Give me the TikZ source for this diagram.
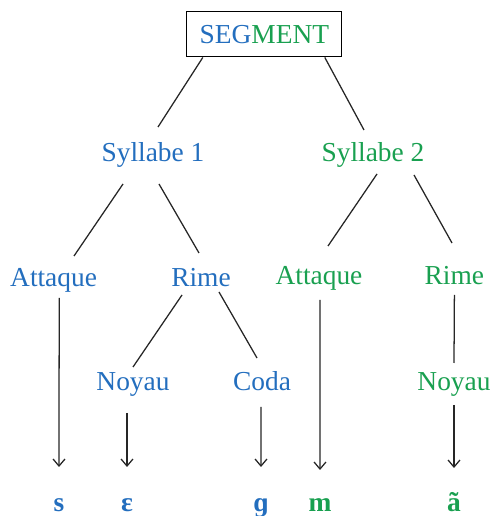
\documentclass[tikz,border=0pt]{standalone}
\usepackage{fontspec}
\setmainfont{Liberation Serif}
\usetikzlibrary{arrows.meta}
\definecolor{sylblue}{RGB}{35,110,190}
\definecolor{sylgreen}{RGB}{25,160,80}
\begin{document}
\begin{tikzpicture}[
        lbl/.style={anchor=base,inner sep=0pt,font=\fontsize{19.5}{23}\selectfont},
        blu/.style={lbl,text=sylblue},
        grn/.style={lbl,text=sylgreen},
        snd/.style={font=\fontsize{19.5}{23}\selectfont\bfseries},
        branch/.style={draw=black!85,line width=0.9pt},
        down/.style={branch,-{Straight Barb[length=5pt,width=8.5pt,line width=0.9pt]}}]
        \useasboundingbox (0,0) rectangle (12.275,12.9);
        %% Top box
        \node[draw,line width=0.8pt,minimum width=3.875cm,minimum height=1.125cm,inner sep=0pt,font=\fontsize{19.5}{23}\selectfont] (seg) at (6.61,12.04) {\textcolor{sylblue}{SEG}\textcolor{sylgreen}{MENT}};
        %% Syllables
        \node[blu] (syl1) at (3.825,8.85) {Syllabe 1};
        \node[grn] (syl2) at (9.325,8.85) {Syllabe 2};
        %% Attaque and Rime
        \node[blu] (att1) at (1.34,5.725) {Attaque};
        \node[blu] (rim1) at (5.025,5.725) {Rime};
        \node[grn] (att2) at (7.975,5.775) {Attaque};
        \node[grn] (rim2) at (11.36,5.775) {Rime};
        %% Noyau and Coda
        \node[blu] (noy1) at (3.325,3.125) {Noyau};
        \node[blu] (coda) at (6.55,3.125) {Coda};
        \node[grn] (noy2) at (11.35,3.125) {Noyau};
        %% Sounds
        \node[blu,snd] (s) at (1.475,0.1) {s};
        \node[blu,snd] (eps) at (3.175,0.1) {ɛ};
        \node[blu,snd] (g) at (6.525,0.1) {ɡ};
        \node[grn,snd] (m) at (8.0,0.1) {m};
        \node[grn,snd] (atil) at (11.35,0.1) {ã};
        %% Branches
        \draw[branch] ([xshift=-1.54cm]seg.south) -- ([shift={(0.125,0.875)}]syl1.base);
        \draw[branch] ([xshift=1.51cm]seg.south) -- ([shift={(-0.225,0.8)}]syl2.base);
        \draw[branch] ([shift={(-0.75,-0.55)}]syl1.base) -- ([shift={(0.51,0.775)}]att1.base);
        \draw[branch] ([shift={(0.15,-0.55)}]syl1.base) -- ([shift={(-0.05,0.85)}]rim1.base);
        \draw[branch] ([shift={(0.1,-0.3)}]syl2.base) -- ([shift={(0.225,0.975)}]att2.base);
        \draw[branch] ([shift={(1.025,-0.325)}]syl2.base) -- ([shift={(-0.06,1.05)}]rim2.base);
        \draw[branch] ([shift={(-0.475,-0.2)}]rim1.base) -- ([shift={(0,0.6)}]noy1.base);
        \draw[branch] ([shift={(0.45,-0.125)}]rim1.base) -- ([shift={(-0.125,0.825)}]coda.base);
        \draw[branch] ([shift={(0,-0.25)}]rim2.base) -- ([shift={(0,0.7)}]noy2.base);
        %% Arrows to sounds
        \draw[down] ([shift={(0.14,-0.275)}]att1.base) -- ([yshift=1.125cm]s.base);
        \draw[down] ([shift={(-0.15,-0.55)}]noy1.base) -- ([yshift=1.125cm]eps.base);
        \draw[down] ([shift={(-0.025,-0.4)}]coda.base) -- ([yshift=1.125cm]g.base);
        \draw[down] ([shift={(0.025,-0.375)}]att2.base) -- ([yshift=1.05cm]m.base);
        \draw[down] ([yshift=-0.35cm]noy2.base) -- ([yshift=1.1cm]atil.base);
    \end{tikzpicture}
\end{document}
